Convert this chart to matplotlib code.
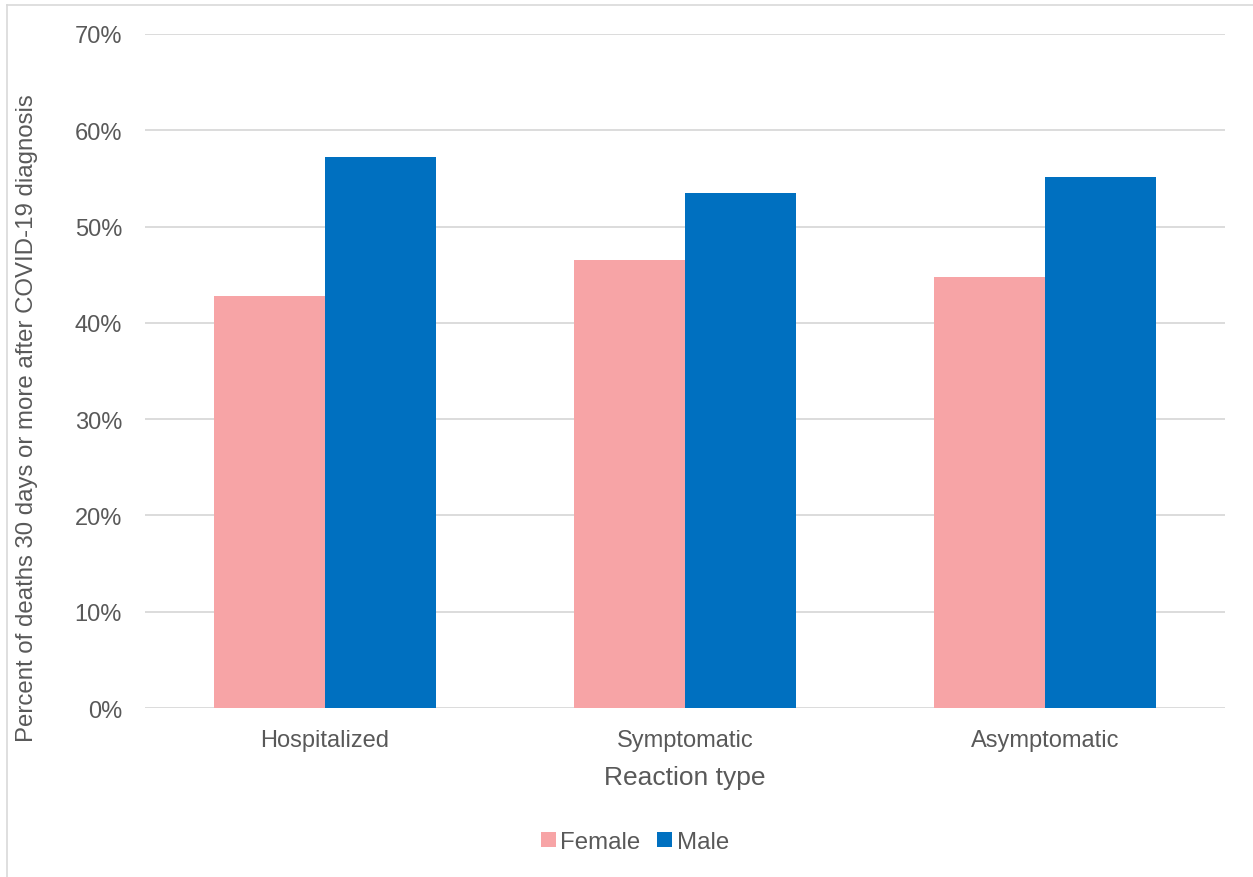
import numpy as np
import matplotlib
matplotlib.use("Agg")
import matplotlib.pyplot as plt
from matplotlib.lines import Line2D

plt.rcParams['font.family'] = ['Liberation Sans', 'DejaVu Sans']

categories = ["Hospitalized", "Symptomatic", "Asymptomatic"]
female = [42.8, 46.5, 44.8]
male = [57.2, 53.5, 55.2]
yticks = [0, 10, 20, 30, 40, 50, 60, 70]

text_color = "#595959"
grid_color = "#D9D9D9"
female_color = "#F7A4A6"
male_color = "#0070C0"

fig = plt.figure(figsize=(12.53, 8.78), dpi=100)
ax = fig.add_axes([145 / 1253, 1 - 709 / 878, 1080 / 1253, 674 / 878])

x = np.arange(len(categories))
w = 0.308
ax.bar(x - w / 2, female, w, color=female_color, label="Female", zorder=3)
ax.bar(x + w / 2, male, w, color=male_color, label="Male", zorder=3)

ax.set_xlim(-0.5, len(categories) - 0.5)
ax.set_ylim(0, 70)
ax.set_yticks(yticks)
ax.set_yticklabels([f"{t}%" for t in yticks])
ax.set_xticks(x)
ax.set_xticklabels(categories)
ax.yaxis.grid(True, color=grid_color, linewidth=1.3, zorder=0)
ax.set_axisbelow(True)
for s in ax.spines.values():
    s.set_visible(False)
ax.tick_params(axis='both', length=0, labelsize=17, colors=text_color)
ax.tick_params(axis='y', pad=16.5)
ax.tick_params(axis='x', pad=15)

ax.set_xlabel("Reaction type", fontsize=19, color=text_color, labelpad=10)
fig.text(27 / 1253, 1 - 418 / 878, "Percent of deaths 30 days or more after COVID-19 diagnosis",
         rotation=90, ha='center', va='center', fontsize=17.3, color=text_color)

# legend sits a bit left of the plot centre
ax.legend(loc='center', bbox_to_anchor=(490 / 1080, -134 / 674), ncol=2, frameon=False,
          fontsize=17.3, labelcolor=text_color, handlelength=0.6, handleheight=0.6,
          handletextpad=0.2, columnspacing=0.7)

# thin outer frame on the top and left edges
fig.add_artist(Line2D([7 / 1253, 7 / 1253], [0, 1 - 6 / 878], transform=fig.transFigure,
                      color=grid_color, linewidth=1.2))
fig.add_artist(Line2D([7 / 1253, 1], [1 - 6 / 878, 1 - 6 / 878], transform=fig.transFigure,
                      color=grid_color, linewidth=1.2))

fig.savefig("out.png", dpi=100)
